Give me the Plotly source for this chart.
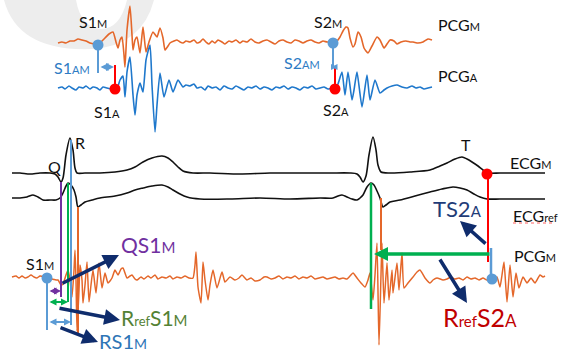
import plotly.graph_objects as go

# ---------------- waveform data (pixel-space schematic units) ----------------
pcgm_top_x = [58,62,66,70,74,78,82,86,90,94,98,102,105,109,113,116,118,120,122,124,125,127,130,132,133,135,137,140,143,146,149,153,157,160,163,165,168,170,174,177,180,183,186,190,
              194,197,200,203,206,209,212,215,218,222,225,229,232,236,240,243,247,251,255,259,263,267,271,275,279,283,287,291,295,299,303,307,311,315,319,323,327,330,333,
              337,340,343,346,348,350,353,355,358,361,364,368,372,377,380,384,387,390,394,397,401,406,410,413,418,423,428,432]
pcgm_top_y = [43,42,43,41,41,39,40,41,43,44,45,41,38,34,32,42,48,40,37,55,67,30,6,35,50,40,37,53,27,52,42,32,37,28,38,50,46,43,41,40,42,43,41,42,
              40,43,42,39,42,44,41,43,40,42,44,41,42,40,43,41,42,39,42,43,41,40,42,44,41,40,42,43,40,41,43,41,40,42,43,41,42,42,42,
              41,37,31,27,28,38,47,44,32,37,48,53,46,37,40,48,44,40,41,44,42,41,42,42,43,42,39,40]

pcga_top_x = [58,62,65,69,72,76,79,83,86,90,93,97,100,103,107,111,115,118,120,123,125,127,130,133,135,137,140,143,146,150,152,155,157,160,164,169,173,178,183,186,190,
              194,197,201,205,208,212,216,220,224,228,232,236,240,244,248,252,256,260,264,268,272,276,280,284,288,292,296,300,304,308,312,316,320,324,328,332,335,
              338,342,345,348,352,354,357,362,367,370,375,380,384,387,392,397,402,407,412,416,420,424,428,432]
pcga_top_y = [88,87,89,86,88,90,87,88,86,89,87,88,90,87,88,89,89,86,80,76,97,72,57,95,115,95,83,92,60,45,85,132,105,73,97,80,92,80,87,85,86,
              84,88,87,90,86,88,87,90,86,88,89,86,88,90,87,88,86,89,87,88,90,87,88,86,89,87,88,90,87,88,86,89,88,87,89,88,89,
              84,72,95,72,100,90,72,107,75,100,80,93,90,88,86,85,87,88,86,88,87,89,88,87]

ecgm_x = [12,20,30,40,50,55,58,61,63,66,70,73,75,77,85,100,115,127,135,143,152,162,168,173,178,183,193,210,240,270,300,330,350,357,360,363,366,369,373,376,378,381,390,410,430,440,447,455,462,467,472,478,483,488,500,520,545]
ecgm_y = [173,173,174,173,173,174,177,182,178,155,138,150,168,173,173,173,172,170,167,162,158,156,158,162,167,171,173,173,174,173,173,173,173,174,177,182,176,155,137,150,165,172,173,172,170,166,163,159,157,159,162,166,170,173,173,173,173]

ecgref_x = [12,20,27,33,38,43,50,56,60,63,66,68,71,74,76,78,81,85,92,100,115,127,135,143,152,162,168,173,180,187,200,230,260,290,320,333,338,342,347,352,357,360,363,367,371,374,377,380,383,386,390,400,415,430,442,453,460,467,474,480,487,500,520,545]
ecgref_y = [198,198,197,195,197,200,200,200,198,193,186,183,185,190,197,207,205,202,200,198,196,193,190,188,186,185,187,190,194,197,199,199,198,199,198,198,196,195,197,199,200,198,195,187,183,185,191,198,207,205,202,200,196,192,189,187,188,190,194,197,199,199,199,199]

pcgm_bot_x = [12,16,19,22,25,28,31,34,37,40,44,48,52,56,58,61,63,66,68,70,72,74,75,76,77,79,80,82,83,85,87,89,91,93,96,99,102,105,108,112,115,118,121,123,127,130,132,135,137,141,144,148,151,155,158,162,166,170,173,177,181,185,189,193,
              195,196,198,201,203,205,208,210,213,217,222,225,230,235,239,242,247,251,255,260,264,267,271,275,279,283,287,291,295,299,303,307,311,315,319,323,327,331,335,339,343,347,350,353,357,361,365,368,370,373,375,377,379,381,382,384,387,389,392,393,397,399,402,404,408,413,417,420,425,430,433,437,443,447,451,455,459,463,467,471,475,479,483,487,492,
              495,497,500,502,504,507,510,513,516,519,523,527,531,535,540,543,545]
pcgm_bot_y = [277,276,278,276,278,277,275,277,278,276,277,279,279,280,280,285,284,275,270,280,297,270,250,280,331,290,265,280,303,285,262,302,285,270,293,263,288,273,283,278,270,275,269,268,278,276,275,279,280,277,279,276,278,275,279,277,278,276,279,277,278,276,278,278,
              265,252,287,303,262,280,300,285,270,288,272,282,277,280,278,275,280,278,281,280,277,277,279,278,276,279,277,278,276,279,277,278,276,279,278,277,279,278,277,279,278,279,276,273,278,283,287,280,273,300,275,243,345,275,243,303,263,300,270,293,263,290,253,288,283,277,272,270,278,283,280,278,280,279,277,279,278,280,277,279,278,280,278,280,279,
              279,277,287,275,262,302,265,297,273,288,277,283,278,283,275,277,276]

# event markers
s1m_top = (98, 45); s1a_top = (115, 89)
s2m_top = (333, 43); s2a_top = (335, 89)
s1m_bot = (47, 278); s2m_bot = (492, 279)
t_end = (487, 174)

ORANGE = "#e4672a"
BLUE = "#1f78cc"
LBLUE = "#5b9bd5"
RED = "#ff0000"
PURPLE = "#7030a0"
GREEN = "#00b050"
NAVY = "#0f2c6c"
FONT = "Lato"

fig = go.Figure()

def line(x, y, color, w=1.6, shape="spline", sm=0.5):
    fig.add_trace(go.Scatter(x=x, y=y, mode="lines", line=dict(color=color, width=w, shape=shape, smoothing=sm),
                             hoverinfo="skip", showlegend=False))

line(pcgm_top_x, pcgm_top_y, ORANGE)
line(pcga_top_x, pcga_top_y, BLUE)
line(ecgm_x, ecgm_y, "#111111", 1.6, "spline", 0.8)
line(ecgref_x, ecgref_y, "#111111", 1.6, "spline", 0.8)
line(pcgm_bot_x, pcgm_bot_y, ORANGE, 1.5)

shapes = []
# watermark arc
shapes.append(dict(type="path", path="M 4 0 Q 18 52 92 49 Q 142 46 154 0 L 127 0 Q 120 29 101 29 Q 81 28 76 0 Z",
                   fillcolor="#ededed", line=dict(width=0), layer="below"))

def vl(x, y0, y1, color, w=2):
    shapes.append(dict(type="line", x0=x, x1=x, y0=y0, y1=y1, line=dict(color=color, width=w)))

# top interval lines
vl(s1m_top[0], s1m_top[1], 73, LBLUE)
vl(s1a_top[0], 65, s1a_top[1], RED)
vl(s2m_top[0], s2m_top[1], 68, LBLUE)
vl(s2a_top[0], 67, s2a_top[1], RED)
# bottom left lines
vl(61, 182, 297, PURPLE)
vl(68, 183, 302, GREEN)
vl(71, 140, 325, LBLUE)
vl(78, 207, 333, ORANGE)
vl(s1m_bot[0], s1m_bot[1], 330, LBLUE)
# right lines
vl(371, 183, 309, GREEN, 2.5)
vl(381, 198, 250, ORANGE)
vl(488, t_end[1], 262, RED)
vl(491, 248, s2m_bot[1], LBLUE, 2.5)
# spell-check squiggle under ECGref
shapes.append(dict(type="line", x0=513, x1=553, y0=223, y1=223, line=dict(color="#ff6060", width=1, dash="dot")))
fig.update_layout(shapes=shapes)

# dots
fig.add_trace(go.Scatter(x=[s1m_top[0], s2m_top[0], s1m_bot[0], s2m_bot[0]],
                         y=[s1m_top[1], s2m_top[1], s1m_bot[1], s2m_bot[1]],
                         mode="markers", marker=dict(color=LBLUE, size=11), hoverinfo="skip", showlegend=False))
fig.add_trace(go.Scatter(x=[s1a_top[0], s2a_top[0], t_end[0]], y=[s1a_top[1], s2a_top[1], t_end[1]],
                         mode="markers", marker=dict(color=RED, size=11), hoverinfo="skip", showlegend=False))

ann = []
def arrow(x0, y0, x1, y1, color, w, size=1.0, head=2, side="end"):
    ann.append(dict(x=x1, y=y1, ax=x0, ay=y0, xref="x", yref="y", axref="x", ayref="y", text="",
                    showarrow=True, arrowhead=head, startarrowhead=head, arrowside=side, arrowsize=size,
                    startarrowsize=size, arrowwidth=w, arrowcolor=color, standoff=0, startstandoff=0))

# interval double arrows
arrow(99, 67, 114, 67, LBLUE, 2, 0.8, 2, "end+start")
arrow(330, 67, 337, 67, LBLUE, 2, 0.6, 2, "end+start")
arrow(48, 291, 61, 291, PURPLE, 2, 0.7, 2, "end+start")
arrow(48, 302, 68, 302, GREEN, 2, 0.7, 2, "end+start")
arrow(48, 322, 71, 322, LBLUE, 2, 0.7, 2, "end+start")
arrow(491, 254, 374, 254, GREEN, 3.5, 0.8)
# navy pointer arrows
arrow(61, 284, 119, 255, NAVY, 3.5, 0.9)
arrow(58, 308, 120, 320, NAVY, 3.5, 0.9)
arrow(59, 327, 98, 342, NAVY, 3.5, 0.9)
arrow(487, 245, 460, 221, NAVY, 3.5, 0.9)
arrow(439, 258, 467, 303, NAVY, 3.5, 0.9)

def sm(t, s):
    return f"<span style='font-size:{s}px'>{t}</span>"

def label(x, y, text, size, color="#111111"):
    ann.append(dict(x=x, y=y, xref="x", yref="y", text=text, showarrow=False, xanchor="left", yanchor="middle",
                    font=dict(family=FONT, size=size, color=color)))

label(77, 21, "S1" + sm("M", 11), 16)
label(52, 67, "S1" + sm("AM", 11), 16, "#2e7bc4")
label(92, 111, "S1" + sm("A", 11), 16)
label(312, 21, "S2" + sm("M", 11), 16)
label(282, 62, "S2" + sm("AM", 11), 16, "#2e7bc4")
label(321, 109, "S2" + sm("A", 11), 16)
label(436, 24, "PCG" + sm("M", 11), 16)
label(436, 75, "PCG" + sm("A", 11), 16)
label(46, 166, "Q", 16)
label(73, 142, "R", 16)
label(459, 144, "T", 16)
label(508, 162, "ECG" + sm("M", 11), 16)
label(511, 215, "ECG" + sm("ref", 11), 16)
label(431, 208, "TS2" + sm("A", 15), 22, "#1f3c78")
label(119, 244, "QS1" + sm("M", 15), 21, PURPLE)
label(119, 317, "R" + sm("ref", 13) + "S1" + sm("M", 15), 21, "#548235")
label(97, 341, "RS1" + sm("M", 14), 20, "#2e75b6")
label(24, 263, "S1" + sm("M", 11), 16)
label(512, 255, "PCG" + sm("M", 11), 16)
label(441, 317, "R" + sm("ref", 15) + "S2" + sm("A", 17), 25, "#c00000")

fig.update_layout(annotations=ann)

fig.update_layout(width=571, height=349, autosize=False, margin=dict(l=0, r=0, t=0, b=0),
                  paper_bgcolor="white", plot_bgcolor="white",
                  xaxis=dict(range=[0, 571], visible=False, fixedrange=True),
                  yaxis=dict(range=[349, 0], visible=False, fixedrange=True))

fig.write_html("out.html", config={"displayModeBar": False})
